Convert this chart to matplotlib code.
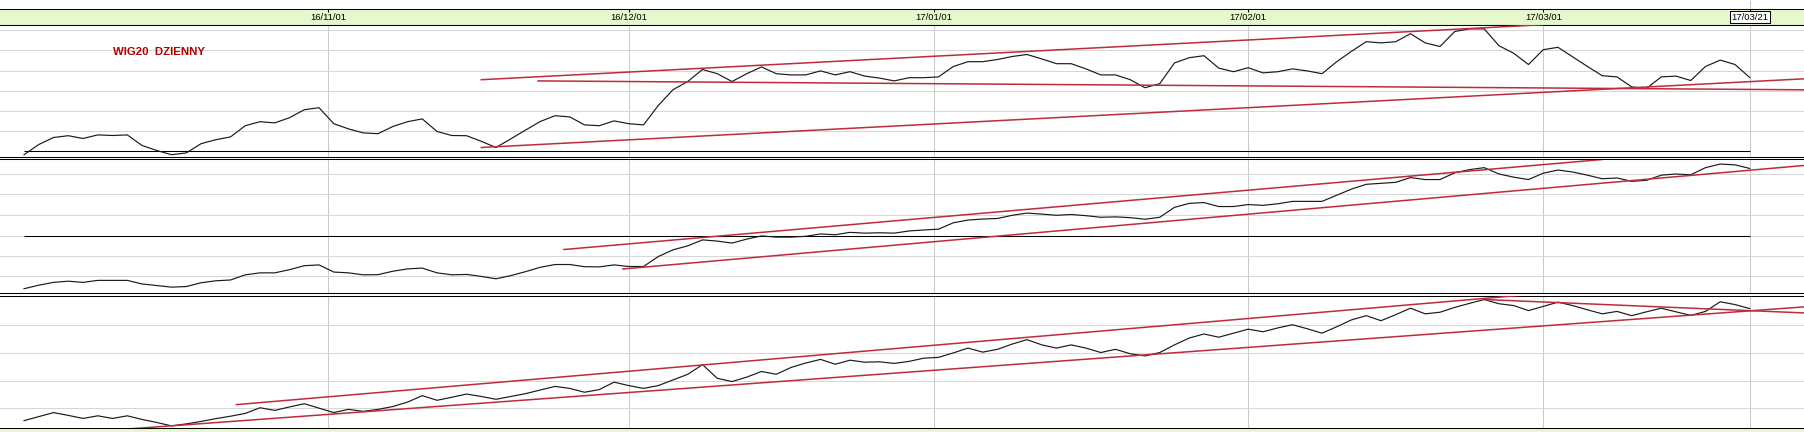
import matplotlib.pyplot as plt

# daily closes, one value per session (index 0 = first session on the chart)
wig20 = [1679, 1730, 1765, 1774, 1760, 1778, 1775, 1778, 1725, 1700,
         1679, 1688, 1734, 1754, 1768, 1824, 1844, 1838, 1864, 1904,
         1914, 1834, 1808, 1788, 1784, 1820, 1844, 1858, 1795, 1775,
         1774, 1746, 1715, 1758, 1802, 1845, 1874, 1868, 1828, 1824,
         1848, 1834, 1828, 1925, 2004, 2045, 2105, 2084, 2045, 2084,
         2118, 2084, 2078, 2078, 2098, 2078, 2094, 2072, 2062, 2048,
         2064, 2064, 2068, 2120, 2144, 2144, 2155, 2170, 2180, 2158,
         2134, 2134, 2108, 2078, 2078, 2054, 2014, 2034, 2138, 2164,
         2174, 2112, 2094, 2114, 2088, 2094, 2108, 2098, 2084, 2144,
         2196, 2244, 2238, 2244, 2284, 2238, 2220, 2295, 2308, 2308,
         2224, 2186, 2130, 2204, 2216, 2168, 2120, 2074, 2068, 2018,
         2010, 2068, 2072, 2050, 2120, 2152, 2130, 2065]

panel2 = [3754, 3772, 3786, 3792, 3786, 3796, 3796, 3796, 3778, 3770,
          3762, 3765, 3784, 3794, 3798, 3824, 3834, 3834, 3850, 3870,
          3874, 3838, 3834, 3824, 3825, 3842, 3854, 3858, 3834, 3824,
          3826, 3816, 3804, 3820, 3840, 3862, 3876, 3876, 3865, 3864,
          3874, 3866, 3866, 3916, 3950, 3970, 4000, 3994, 3984, 4004,
          4020, 4014, 4014, 4018, 4030, 4026, 4038, 4034, 4036, 4034,
          4045, 4050, 4054, 4086, 4100, 4105, 4108, 4124, 4135, 4130,
          4124, 4128, 4122, 4114, 4116, 4112, 4104, 4114, 4164, 4184,
          4188, 4168, 4168, 4178, 4174, 4182, 4194, 4194, 4194, 4225,
          4256, 4280, 4285, 4290, 4314, 4304, 4304, 4338, 4354, 4364,
          4332, 4316, 4304, 4336, 4352, 4342, 4326, 4308, 4312, 4295,
          4300, 4326, 4332, 4328, 4364, 4382, 4378, 4360]

panel3 = [1904, 1924, 1944, 1930, 1915, 1928, 1915, 1928, 1910, 1895,
          1878, 1888, 1900, 1914, 1926, 1940, 1968, 1955, 1972, 1988,
          1966, 1944, 1960, 1950, 1960, 1974, 1996, 2028, 2005, 2020,
          2036, 2024, 2010, 2024, 2038, 2056, 2074, 2064, 2045, 2058,
          2095, 2078, 2064, 2078, 2106, 2134, 2182, 2114, 2098, 2120,
          2148, 2134, 2168, 2190, 2208, 2184, 2204, 2194, 2196, 2188,
          2198, 2214, 2218, 2240, 2264, 2244, 2258, 2284, 2306, 2280,
          2264, 2280, 2264, 2242, 2258, 2236, 2225, 2242, 2280, 2314,
          2334, 2318, 2338, 2358, 2345, 2364, 2380, 2360, 2338, 2370,
          2404, 2425, 2400, 2430, 2462, 2434, 2442, 2466, 2486, 2505,
          2484, 2475, 2450, 2471, 2492, 2475, 2454, 2434, 2446, 2425,
          2444, 2462, 2444, 2426, 2446, 2494, 2480, 2460]

# month marks on the session axis
date_labels = ['16/11/01', '16/12/01', '17/01/01', '17/02/01', '17/03/01', '17/03/21']
date_pos = [20.6, 41.0, 61.7, 83.0, 103.0, 117.0]

# trend lines: (session, value) -> (session, value)
trends1 = [((31, 2054), (103, 2329)),
           ((34.85, 2048), (120.7, 2003.5)),
           ((31, 1715), (120.7, 2058.5))]
trends2 = [((36.6, 3951.5), (107, 4405)),
           ((40.6, 3853.5), (120.7, 4375))]
trends3 = [((14.4, 1983.5), (101.9, 2528.5)),
           ((7.3, 1864), (120.7, 2468.5)),
           ((99.05, 2505), (120.7, 2438.5))]

ylims = [(1670, 2330), (3735, 4405), (1870, 2525)]
grids = [[1800, 1900, 2000, 2100, 2200, 2300],
         [3820, 3920, 4020, 4125, 4230, 4330],
         [1965, 2100, 2240, 2380]]
levels = [1700, 4020, None]

green = '#e6f8cd'
red = '#bf2b3c'
xlim = (-1.63, 120.68)
W, H = 1804, 432
LW = 0.75

fig = plt.figure(figsize=(W / 100, H / 100), dpi=100)
fig.patch.set_facecolor('white')


def frac(top, bottom):
    # half pixel shift so the frame lines land on whole pixels
    top, bottom = top + 0.5, bottom + 0.5
    return [0, 1 - bottom / H, 1, (bottom - top) / H]


# header strip with dates
head = fig.add_axes(frac(8, 24))
head.set_facecolor(green)
head.set_xlim(*xlim)
head.set_ylim(0, 1)
head.set_yticks([])
head.set_xticks(date_pos)
head.tick_params(axis='x', top=True, bottom=False, direction='in', length=2.5,
                 width=LW, labelbottom=False)
for side in ['left', 'right']:
    head.spines[side].set_visible(False)
for side in ['top', 'bottom']:
    head.spines[side].set_linewidth(LW)
for pos, lab in zip(date_pos, date_labels):
    kw = {}
    if lab == date_labels[-1]:
        kw['bbox'] = dict(boxstyle='square,pad=0.15', fc='white', ec='black', lw=LW)
    head.text(pos, 0.45, lab, ha='center', va='center', fontsize=6.8,
              family='Liberation Sans', color='black', **kw)

# bottom strip
foot = fig.add_axes([0, 0, 1, 5 / H])
foot.set_facecolor(green)
foot.set_xticks([])
foot.set_yticks([])
for s in foot.spines.values():
    s.set_visible(False)

panels = [(frac(24, 156), wig20, trends1),
          (frac(159, 292), panel2, trends2),
          (frac(295, 427), panel3, trends3)]

axes = []
for k, (rect, series, trends) in enumerate(panels):
    ax = fig.add_axes(rect)
    ax.set_xlim(*xlim)
    ax.set_ylim(*ylims[k])
    ax.set_xticks(date_pos)
    ax.set_yticks(grids[k])
    ax.grid(axis='y', color='#d6d6d6', lw=LW)
    ax.grid(axis='x', color='#cbcbcb', lw=LW)
    ax.set_axisbelow(True)
    ax.tick_params(length=0, labelleft=False, labelbottom=False)
    for side in ['left', 'right']:
        ax.spines[side].set_visible(False)
    for side in ['top', 'bottom']:
        ax.spines[side].set_linewidth(LW)
    if levels[k] is not None:
        ax.hlines(levels[k], 0, len(series) - 1, color='black', lw=LW, zorder=2)
    ax.plot(range(len(series)), series, color='#1a1a1a', lw=0.85, zorder=3)
    for (x0, y0), (x1, y1) in trends:
        ax.plot([x0, x1], [y0, y1], color=red, lw=1.1, zorder=4)
    axes.append(ax)

axes[0].text(0.0626, 0.79, 'WIG20  DZIENNY', transform=axes[0].transAxes,
             ha='left', va='center', fontsize=8.2, fontweight='bold',
             family='Liberation Sans', color='#b00000')

# current session cursor running through the header
head.axvline(date_pos[-1], ymin=1, ymax=1.5, color='#cbcbcb', lw=LW, clip_on=False)

fig.savefig('out.png', dpi=100)
